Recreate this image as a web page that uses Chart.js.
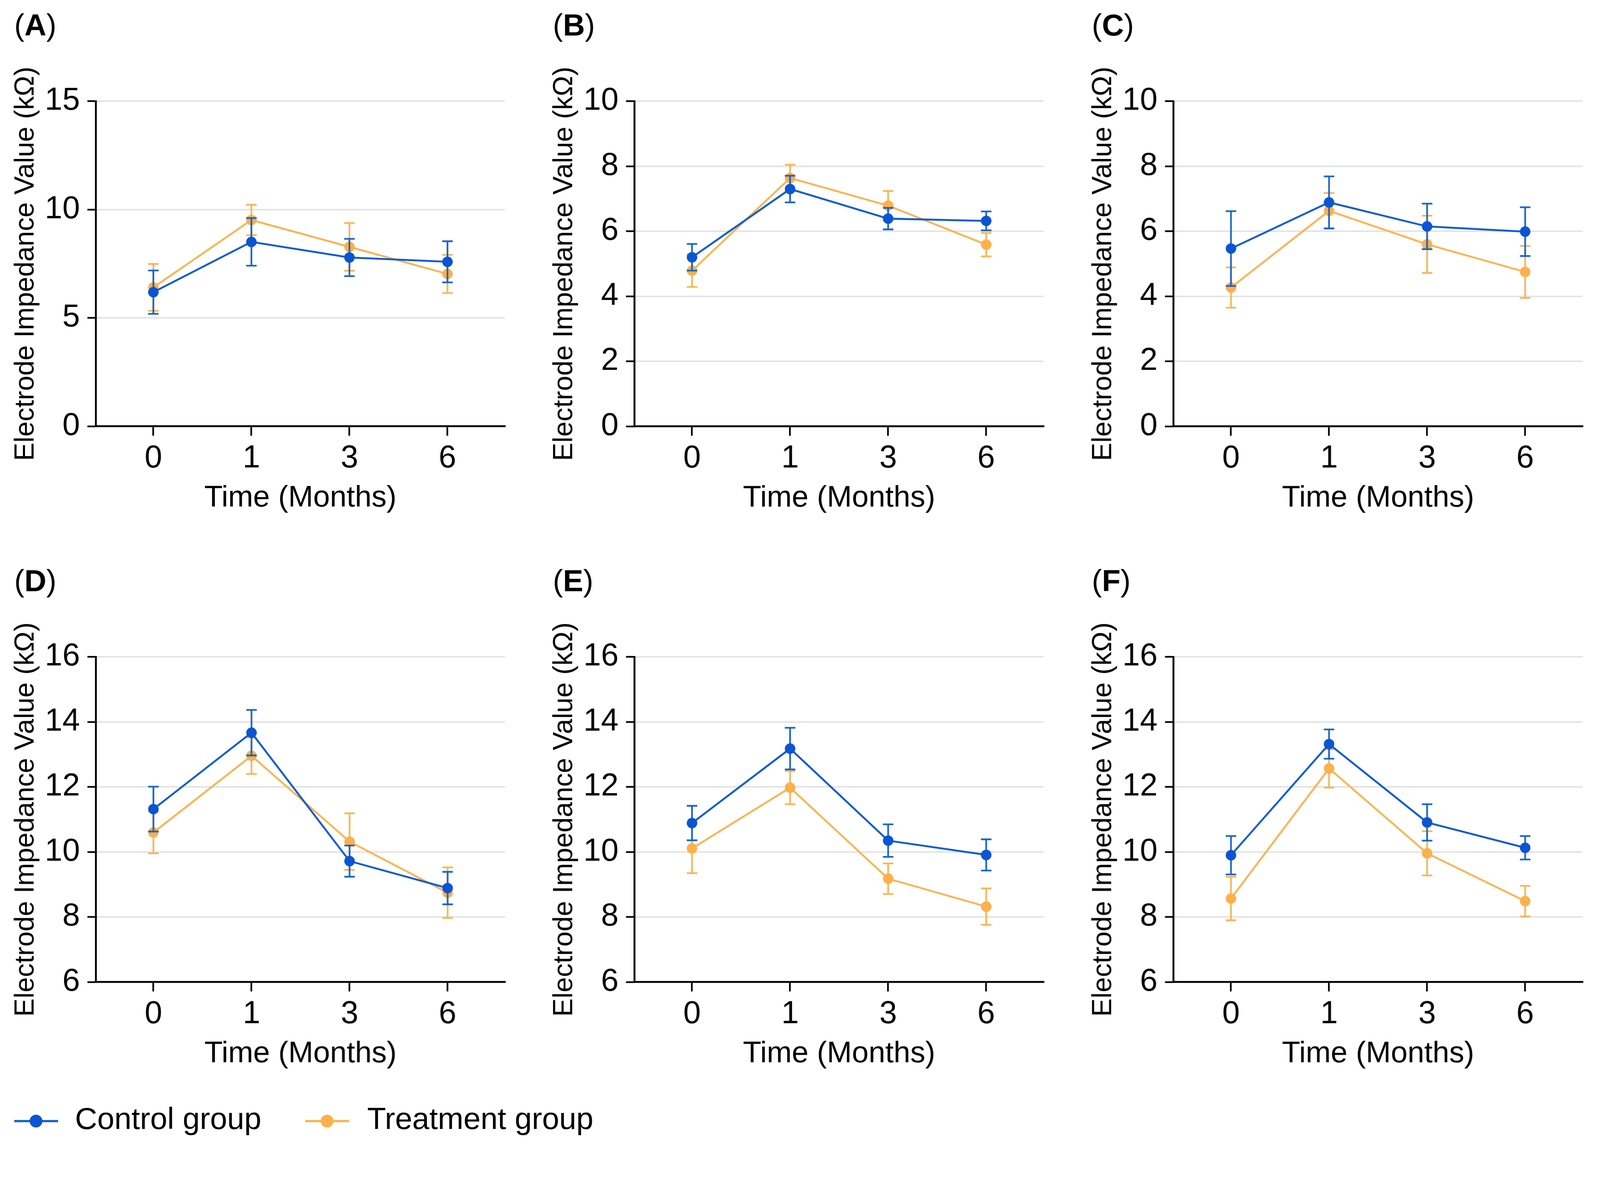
<!DOCTYPE html>
<html>
<head>
<meta charset="utf-8">
<script src="https://cdn.jsdelivr.net/npm/chart.js@4.4.0/dist/chart.umd.min.js"></script>
<style>
html, body { margin: 0; padding: 0; background: #fff; overflow: hidden; }
#page { width: 4266px; height: 3055px; position: absolute; left: 0; top: 0; transform-origin: 0 0; font-family: "Liberation Sans", Arial, sans-serif; color: #000; }
.panel { position: absolute; width: 1420px; height: 1400px; }
.panel canvas { position: absolute; left: 0; top: 0; }
.tag { position: absolute; left: 38px; top: 27px; font-size: 81px; line-height: 1; }
.tag b { font-weight: 700; }
.key-line { position: absolute; height: 6px; }
.key-dot { position: absolute; width: 34px; height: 34px; border-radius: 50%; }
.key-text { position: absolute; top: 2942px; font-size: 82px; line-height: 1; white-space: nowrap; }
</style>
</head>
<body>
<div id="page">
<div class="key-line" style="left:38px; top:2987px; width:117px; background:#1565cc;"></div>
<div class="key-dot" style="left:79px; top:2973px; background:#0a55d3;"></div>
<div class="key-text" style="left:200px;">Control group</div>
<div class="key-line" style="left:814px; top:2987px; width:117px; background:#fbb44f;"></div>
<div class="key-dot" style="left:855px; top:2973px; background:#fdb04b;"></div>
<div class="key-text" style="left:979px;">Treatment group</div>
</div>

<script>
// DATA
const timeLabels = ["0", "1", "3", "6"];
const panelTags = ["A", "B", "C", "D", "E", "F"];
const yMin = [0, 0, 0, 6, 6, 6];
const yMax = [15, 10, 10, 16, 16, 16];
const yStep = [5, 2, 2, 2, 2, 2];

const ctrlA = [6.19, 8.51, 7.79, 7.59];
const ctrlErrA = [1.0, 1.1, 0.86, 0.95];
const treatA = [6.41, 9.52, 8.28, 7.03];
const treatErrA = [1.08, 0.7, 1.1, 0.88];

const ctrlB = [5.2, 7.3, 6.39, 6.32];
const ctrlErrB = [0.41, 0.41, 0.33, 0.29];
const treatB = [4.79, 7.64, 6.79, 5.59];
const treatErrB = [0.5, 0.41, 0.45, 0.36];

const ctrlC = [5.47, 6.89, 6.15, 5.99];
const ctrlErrC = [1.15, 0.8, 0.7, 0.75];
const treatC = [4.27, 6.63, 5.6, 4.75];
const treatErrC = [0.62, 0.55, 0.88, 0.8];

const ctrlD = [11.32, 13.67, 9.72, 8.89];
const ctrlErrD = [0.69, 0.7, 0.48, 0.5];
const treatD = [10.6, 12.96, 10.32, 8.75];
const treatErrD = [0.64, 0.56, 0.87, 0.78];

const ctrlE = [10.89, 13.18, 10.35, 9.91];
const ctrlErrE = [0.53, 0.64, 0.5, 0.48];
const treatE = [10.11, 11.98, 9.18, 8.32];
const treatErrE = [0.76, 0.51, 0.47, 0.56];

const ctrlF = [9.9, 13.32, 10.91, 10.13];
const ctrlErrF = [0.59, 0.45, 0.56, 0.36];
const treatF = [8.57, 12.57, 9.96, 8.49];
const treatErrF = [0.67, 0.59, 0.68, 0.47];

const FONT = "'Liberation Sans', Arial, sans-serif";
const colLeft = [0, 1436, 2873];
const rowTop = [0, 1482];

// fit the 4266x3055 layout into whatever viewport we actually get
const page = document.getElementById("page");
const S = Math.min(window.innerWidth / 4266, window.innerHeight / 3055);
page.style.transform = "scale(" + S + ")";
const DPR = (window.devicePixelRatio || 1) * S;

// error bars drawn under each dataset's own line and points
const errorBars = {
    id: "errorBars",
    beforeDatasetDraw(chart, args) {
        const ds = chart.data.datasets[args.index];
        if (!ds.errors) return;
        const ys = chart.scales.y;
        const ctx = chart.ctx;
        ctx.save();
        ctx.strokeStyle = ds.errColor;
        ctx.lineWidth = 4.5;
        args.meta.data.forEach((pt, i) => {
            const v = ds.data[i].y, e = ds.errors[i];
            const top = ys.getPixelForValue(v + e);
            const bot = ys.getPixelForValue(v - e);
            ctx.beginPath();
            ctx.moveTo(pt.x, top); ctx.lineTo(pt.x, bot);
            ctx.moveTo(pt.x - 14, top); ctx.lineTo(pt.x + 14, top);
            ctx.moveTo(pt.x - 14, bot); ctx.lineTo(pt.x + 14, bot);
            ctx.stroke();
        });
        ctx.restore();
    }
};

function toPoints(arr) {
    return arr.map((v, i) => ({ x: i, y: v }));
}

function makePanel(idx, ctrl, ctrlErr, treat, treatErr) {
    const col = idx % 3, row = Math.floor(idx / 3);
    const div = document.createElement("div");
    div.className = "panel";
    div.style.left = colLeft[col] + "px";
    div.style.top = rowTop[row] + "px";
    const canvas = document.createElement("canvas");
    canvas.width = 1420;
    canvas.height = 1400;
    div.appendChild(canvas);
    const tag = document.createElement("div");
    tag.className = "tag";
    tag.innerHTML = "(<b>" + panelTags[idx] + "</b>)";
    div.appendChild(tag);
    page.appendChild(div);

    new Chart(canvas, {
        type: "line",
        data: {
            datasets: [{
                label: "Control group",
                data: toPoints(ctrl),
                errors: ctrlErr,
                errColor: "#1565cc",
                borderColor: "#0a5ad0",
                backgroundColor: "#0a55d3",
                borderWidth: 5,
                pointRadius: 14,
                pointBorderWidth: 0,
                pointBackgroundColor: "#0a55d3",
                tension: 0,
                clip: false
            }, {
                label: "Treatment group",
                data: toPoints(treat),
                errors: treatErr,
                errColor: "#fbb44f",
                borderColor: "#fbb34f",
                backgroundColor: "#fdb04b",
                borderWidth: 5,
                pointRadius: 14,
                pointBorderWidth: 0,
                pointBackgroundColor: "#fdb04b",
                tension: 0,
                clip: false
            }]
        },
        options: {
            responsive: false,
            animation: false,
            devicePixelRatio: DPR,
            layout: { padding: { left: 20, top: 270, right: 74, bottom: 23 } },
            plugins: { legend: { display: false }, tooltip: { enabled: false } },
            scales: {
                x: {
                    type: "linear",
                    min: -0.585,
                    max: 3.585,
                    afterBuildTicks: s => { s.ticks = timeLabels.map((_, i) => ({ value: i })); },
                    afterFit: s => { s.height = 240; },
                    ticks: {
                        callback: v => timeLabels[v],
                        font: { family: FONT, size: 84 },
                        color: "#000",
                        padding: 11,
                        maxRotation: 0
                    },
                    grid: { drawOnChartArea: false, drawTicks: true, tickLength: 25, tickColor: "#000", tickWidth: 4.5, lineWidth: 4.5 },
                    border: { color: "#000", width: 5 },
                    title: { display: true, text: "Time (Months)", font: { family: FONT, size: 80 }, color: "#000", padding: { top: 0, bottom: 0 } }
                },
                y: {
                    min: yMin[idx],
                    max: yMax[idx],
                    afterFit: s => { s.width = 236; },
                    ticks: { stepSize: yStep[idx], font: { family: FONT, size: 84 }, color: "#000", padding: 20 },
                    grid: { color: "#e2e2e2", lineWidth: 4, tickColor: "#000", tickLength: 23, tickWidth: 4.5 },
                    border: { color: "#000", width: 5 },
                    title: { display: true, text: "Electrode Impedance Value (kΩ)", font: { family: FONT, size: 73 }, color: "#000", padding: { top: 6, bottom: 0 } }
                }
            }
        },
        plugins: [errorBars]
    });
}

makePanel(0, ctrlA, ctrlErrA, treatA, treatErrA);
makePanel(1, ctrlB, ctrlErrB, treatB, treatErrB);
makePanel(2, ctrlC, ctrlErrC, treatC, treatErrC);
makePanel(3, ctrlD, ctrlErrD, treatD, treatErrD);
makePanel(4, ctrlE, ctrlErrE, treatE, treatErrE);
makePanel(5, ctrlF, ctrlErrF, treatF, treatErrF);
</script>
</body>
</html>
